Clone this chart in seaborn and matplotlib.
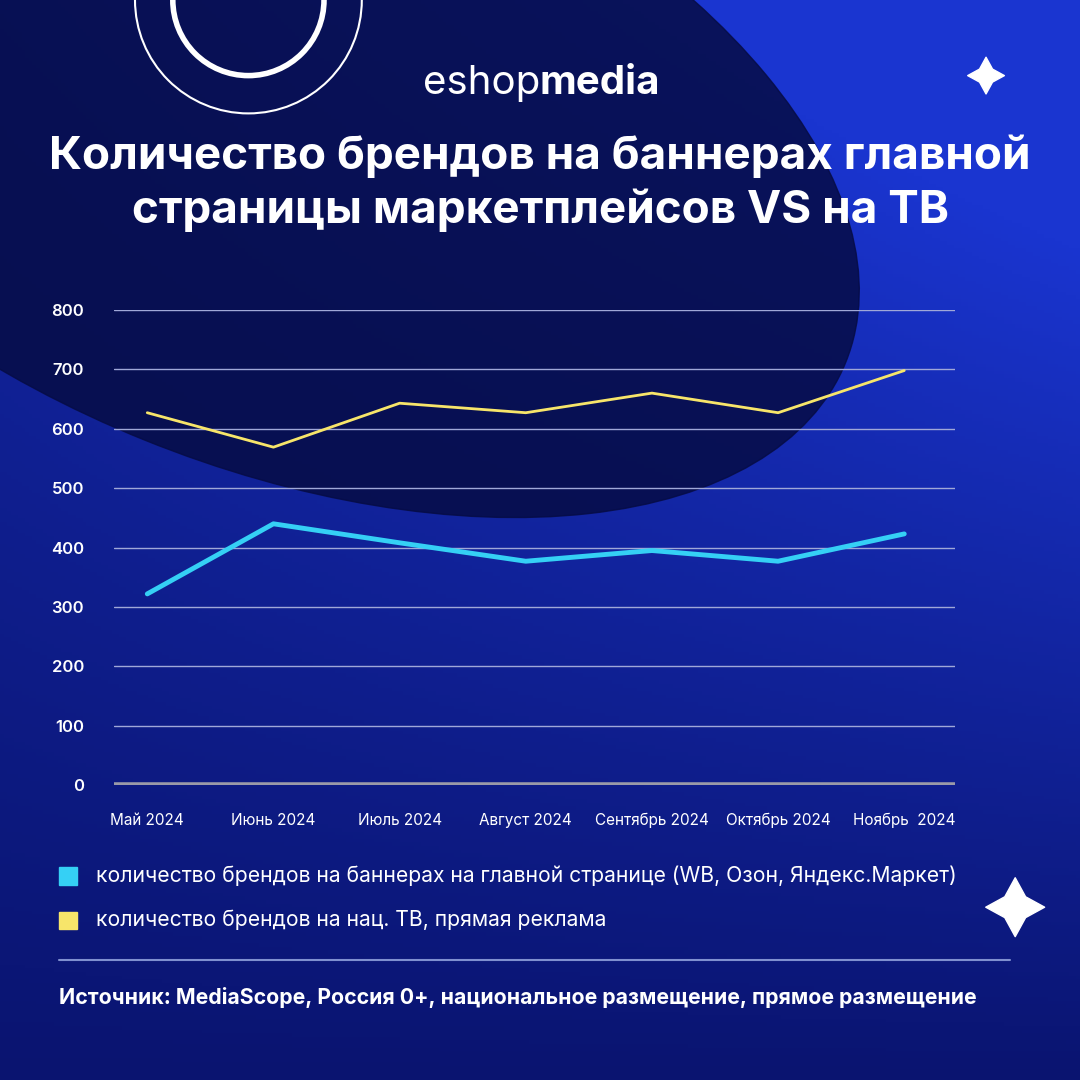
import numpy as np
import pandas as pd
import matplotlib
matplotlib.use("Agg")
import matplotlib.pyplot as plt
import seaborn as sns
from matplotlib.patches import Ellipse, Circle

months = ["Май 2024", "Июнь 2024", "Июль 2024", "Август 2024",
          "Сентябрь 2024", "Октябрь 2024", "Ноябрь  2024"]
banners = [322, 440, 408, 377, 395, 377, 423]
tv = [627, 569, 643, 627, 660, 627, 698]
yticks = [0, 100, 200, 300, 400, 500, 600, 700, 800]

sns.set_theme(style="white")
plt.rcParams["font.family"] = ["Inter", "DejaVu Sans"]

fig = plt.figure(figsize=(10.8, 10.8), dpi=100)

# background
bg = fig.add_axes([0, 0, 1, 1])
yy, xx = np.mgrid[0:1:300j, 0:1:300j]
grad = np.clip(0.35 + 0.6 * xx * (1 - yy) + 0.3 * (1 - yy) - 0.2 * yy, 0, 1)
cmap = matplotlib.colors.LinearSegmentedColormap.from_list("bg", ["#0a1470", "#1a35d0"])
bg.imshow(grad, cmap=cmap, extent=[0, 1, 0, 1], origin="upper", aspect="auto")
bg.add_patch(Ellipse((0.25, 0.88), 1.15, 0.62, angle=-22, color="#060c45", alpha=0.85))
bg.add_patch(Circle((0.23, 1.0), 0.105, fill=False, ec="white", lw=1.5))
bg.add_patch(Circle((0.23, 1.0), 0.07, fill=False, ec="white", lw=4))
bg.plot([0.055, 0.935], [0.111, 0.111], color="#8090d0", lw=1.5)
bg.scatter([0.913, 0.94], [0.93, 0.16], marker=(4, 1, 0), s=[700, 1800], color="white")
bg.set_xlim(0, 1)
bg.set_ylim(0, 1)
bg.axis("off")

fig.text(0.5, 0.923, "eshop", ha="right", va="center", fontsize=29, color="white")
fig.text(0.5, 0.923, "media", ha="left", va="center", fontsize=29, color="white", fontweight="bold")
fig.text(0.5, 0.83, "Количество брендов на баннерах главной\nстраницы маркетплейсов VS на ТВ",
         ha="center", va="center", fontsize=33, fontweight="bold", color="white", linespacing=1.3)

ax = fig.add_axes([0.106, 0.273, 0.778, 0.44])
ax.patch.set_alpha(0)
df = pd.DataFrame({"x": range(len(months)), "banners": banners, "tv": tv})
sns.lineplot(data=df, x="x", y="banners", ax=ax, color="#35d0f5", lw=3.5)
sns.lineplot(data=df, x="x", y="tv", ax=ax, color="#f7e56a", lw=2)
ax.set_ylim(0, 800)
ax.set_xlim(-0.26, 6.4)
ax.set_yticks(yticks)
ax.set_xticks(range(len(months)))
ax.set_xticklabels(months)
for t in yticks[1:]:
    ax.axhline(t, color="#a0a8d8", lw=1, zorder=0)
ax.axhline(0, color="#9a9aa8", lw=4, zorder=0)
for s in ax.spines.values():
    s.set_visible(False)
ax.tick_params(axis="y", colors="white", labelsize=12, length=0, pad=22)
for lab in ax.get_yticklabels():
    lab.set_fontweight("semibold")
ax.tick_params(axis="x", colors="white", labelsize=11, length=0, pad=20)
ax.set_xlabel("")
ax.set_ylabel("")

fig.patches.append(plt.Rectangle((0.055, 0.181), 0.016, 0.016, color="#35d0f5", transform=fig.transFigure))
fig.patches.append(plt.Rectangle((0.055, 0.140), 0.016, 0.016, color="#f7e56a", transform=fig.transFigure))
fig.text(0.089, 0.189, "количество брендов на баннерах на главной странице (WB, Озон, Яндекс.Маркет)",
         va="center", fontsize=15.2, color="white")
fig.text(0.089, 0.148, "количество брендов на нац. ТВ, прямая реклама", va="center", fontsize=15.2, color="white")
fig.text(0.055, 0.076, "Источник: MediaScope, Россия 0+, национальное размещение, прямое размещение",
         va="center", fontsize=15.3, fontweight="bold", color="white")

fig.savefig("out.png", dpi=100)
